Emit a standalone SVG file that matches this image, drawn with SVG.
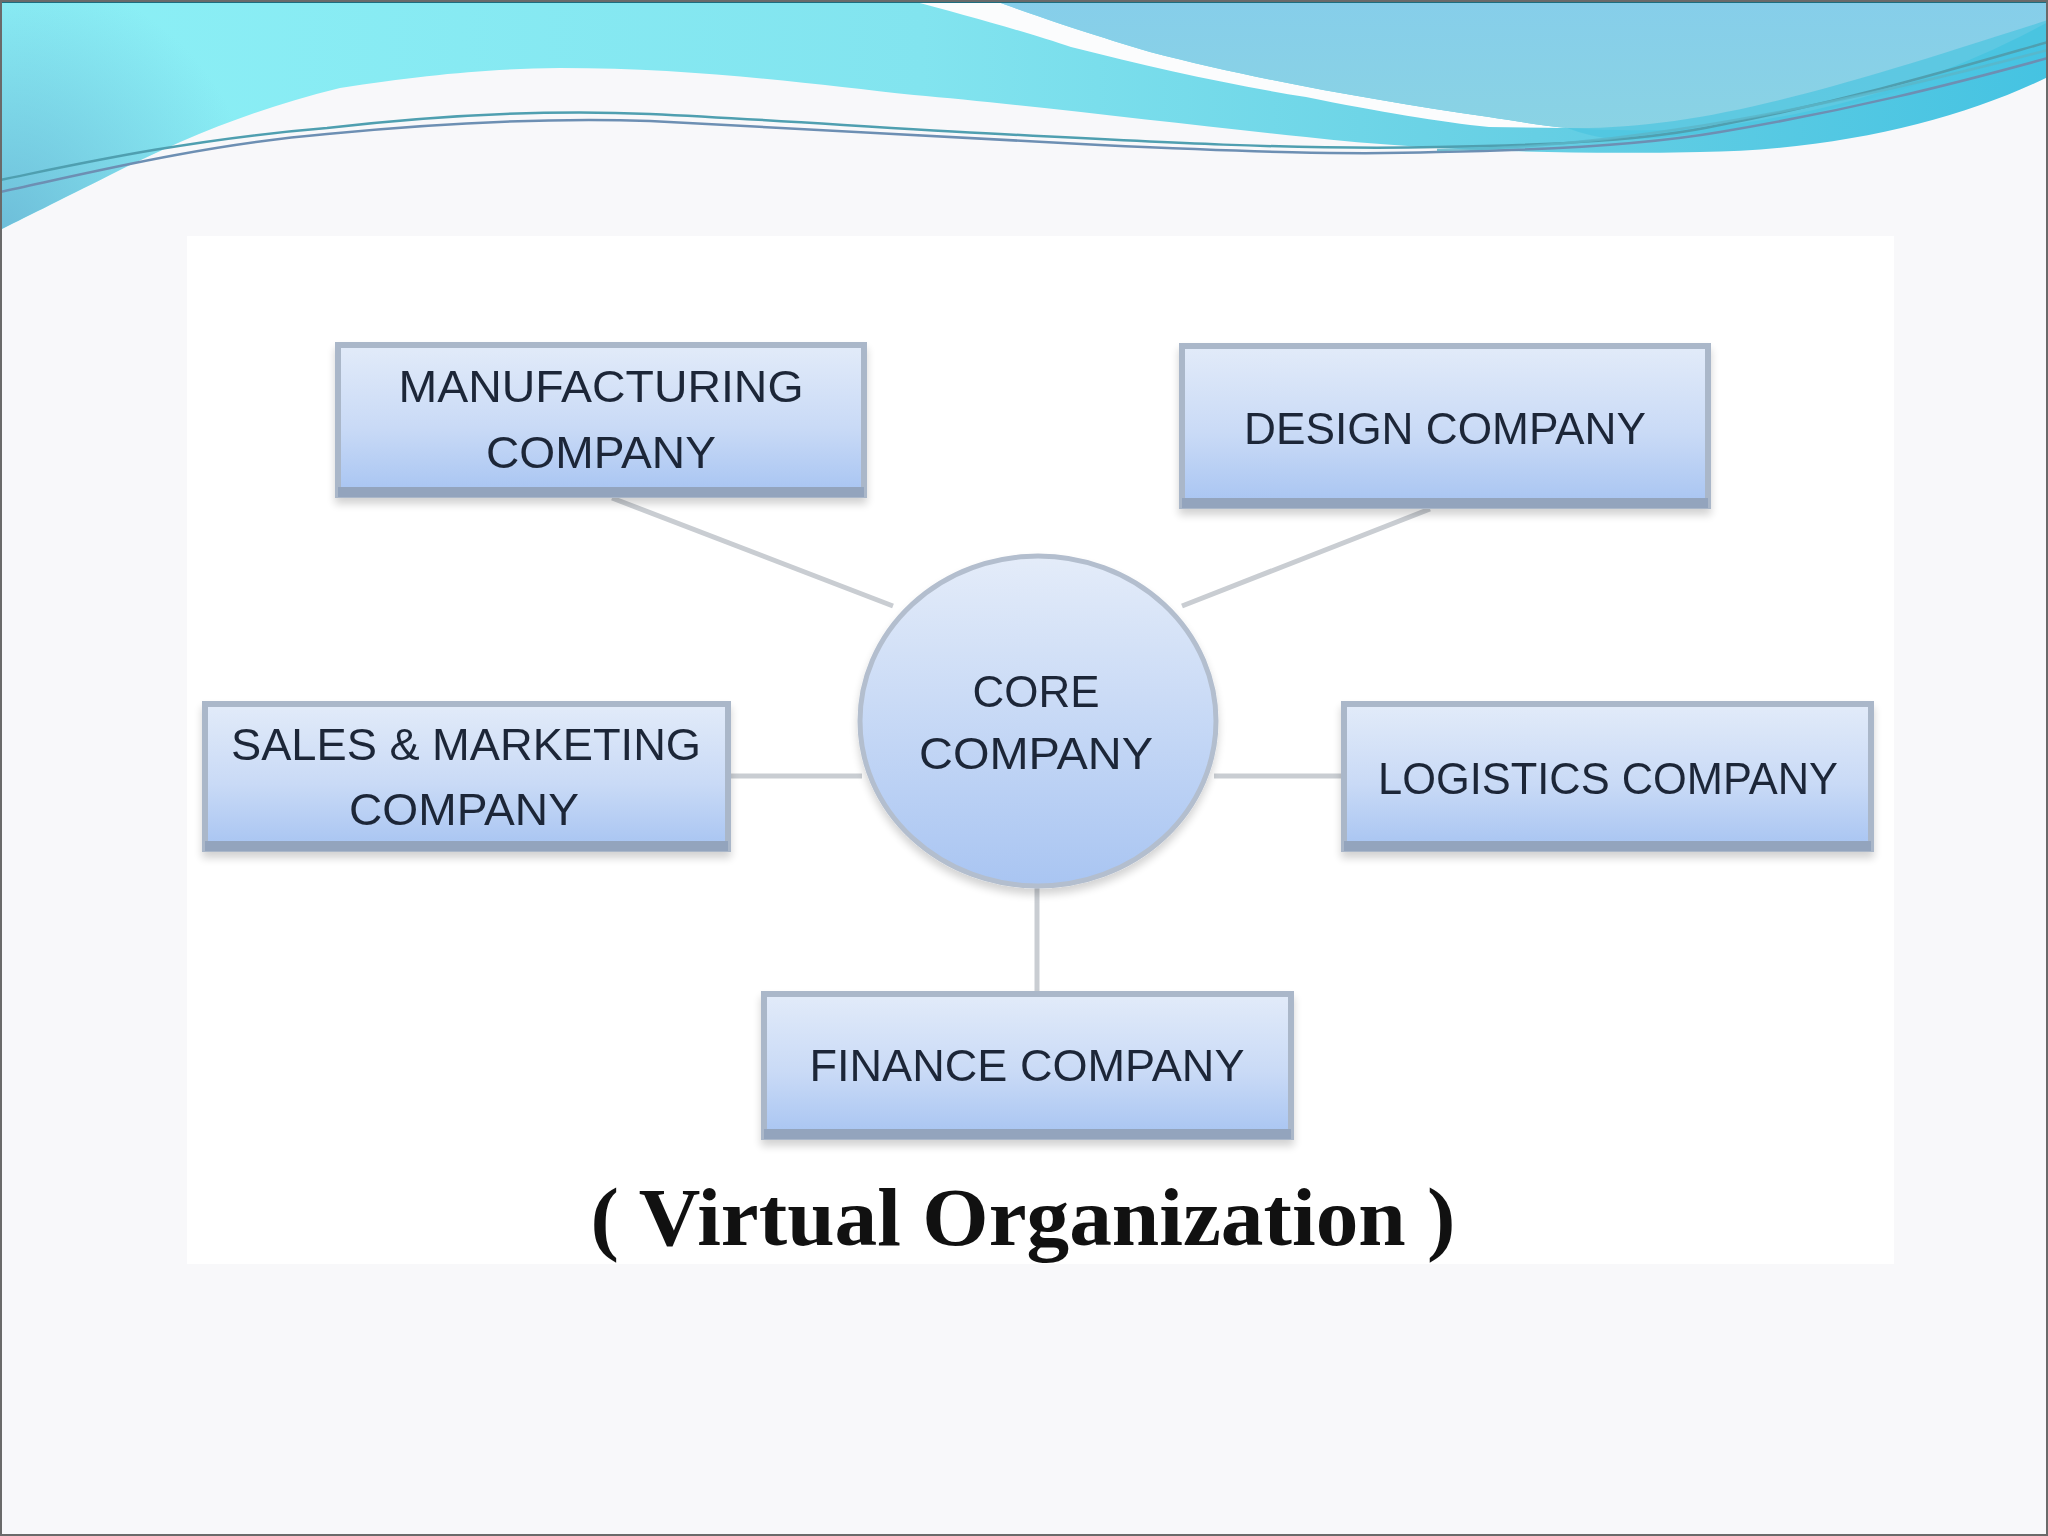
<svg xmlns="http://www.w3.org/2000/svg" width="2048" height="1536" viewBox="0 0 2048 1536">
<defs>
<linearGradient id="boxg" x1="0" y1="0" x2="0" y2="1">
<stop offset="0" stop-color="#e2ebf9"/>
<stop offset="0.55" stop-color="#c9daf6"/>
<stop offset="1" stop-color="#a7c4f2"/>
</linearGradient>
<linearGradient id="circg" x1="0" y1="0" x2="0" y2="1">
<stop offset="0" stop-color="#e4ecf9"/>
<stop offset="1" stop-color="#a9c5f2"/>
</linearGradient>
<linearGradient id="waveA" x1="0" y1="0" x2="1" y2="0">
<stop offset="0" stop-color="#8cf0f6"/>
<stop offset="0.45" stop-color="#82e4ef"/>
<stop offset="0.75" stop-color="#66cfe4"/>
<stop offset="1" stop-color="#45c3e2"/>
</linearGradient>
<radialGradient id="waveL" cx="0" cy="230" r="260" gradientUnits="userSpaceOnUse">
<stop offset="0" stop-color="#6ab8d6" stop-opacity="0.9"/>
<stop offset="1" stop-color="#6ab8d6" stop-opacity="0"/>
</radialGradient>
<linearGradient id="waveB" x1="0" y1="0" x2="0" y2="1">
<stop offset="0" stop-color="#86ceea"/>
<stop offset="1" stop-color="#8ad3e4"/>
</linearGradient>
<clipPath id="clipA">
<path d="M0,0 L2048,0 L2048,77 C1960,120 1840,150 1700,152 C1560,155 1420,150 1306,137 C1180,124 1020,104 914,95 C820,85 700,68 560,68 C480,69 420,76 340,88 C250,110 180,140 110,175 C60,200 20,220 0,230 Z"/>
</clipPath>
<filter id="sh" x="-10%" y="-10%" width="120%" height="130%">
<feGaussianBlur in="SourceAlpha" stdDeviation="4"/>
<feOffset dx="0" dy="6"/>
<feComponentTransfer><feFuncA type="linear" slope="0.18"/></feComponentTransfer>
<feMerge><feMergeNode/><feMergeNode in="SourceGraphic"/></feMerge>
</filter>
</defs>
<style>
.box{fill:url(#boxg);stroke:#aab7c9;stroke-width:6}
.strip{fill:#93a4bd}
.lbl{font-family:"Liberation Sans","DejaVu Sans",sans-serif;font-size:44px;fill:#1e2738;text-anchor:middle}
.conn{stroke:#c9cdd2;stroke-width:5;fill:none}
.wl{fill:none;stroke-width:2.5}
</style>
<rect x="0" y="0" width="2048" height="1536" fill="#f8f8fa"/>
<rect x="187" y="236" width="1707" height="1028" fill="#ffffff"/>
<g id="waves">
<path d="M0,0 L2048,0 L2048,77 C1960,120 1840,150 1700,152 C1560,155 1420,150 1306,137 C1180,124 1020,104 914,95 C820,85 700,68 560,68 C480,69 420,76 340,88 C250,110 180,140 110,175 C60,200 20,220 0,230 Z" fill="url(#waveA)"/>
<rect x="0" y="0" width="300" height="240" fill="url(#waveL)" clip-path="url(#clipA)"/>
<path d="M908,0 L993,0 C1030,14 1090,34 1150,52 C1250,78 1370,100 1489,117 C1515,121 1545,126 1567,128 L1489,127 C1440,122 1380,112 1306,97 C1230,85 1150,67 1071,47 C1030,33 965,15 908,0 Z" fill="#fbfcfd"/>
<path d="M993,0 L2048,0 L2048,22 C1960,70 1840,115 1700,128 C1650,132 1600,130 1567,128 C1545,126 1515,121 1489,117 C1370,100 1250,78 1150,52 C1090,34 1030,14 993,0 Z" fill="url(#waveB)"/>
<path d="M1567,128 C1700,130 1830,90 2048,20 L2048,40 C1900,95 1760,135 1620,140 C1600,138 1580,133 1567,128 Z" fill="#4cc4e0" opacity="0.7"/>
<path class="wl" stroke="#4f9fb0" d="M0,180 C60,168 180,140 327,128 C450,114 560,110 650,114 C780,120 880,128 1000,134 C1150,142 1300,150 1437,147 C1560,145 1650,140 1720,125 C1850,100 1950,70 2048,42"/>
<path class="wl" stroke="#6d8fb3" d="M0,192 C80,175 200,145 327,134 C450,122 560,118 650,121 C800,128 950,138 1100,145 C1250,152 1350,155 1437,152 C1560,150 1650,144 1720,132 C1850,110 1950,85 2048,58"/>
<path class="wl" stroke="#5bb5c8" d="M1437,150 C1600,148 1780,120 2048,50" opacity="0.8"/>
<rect x="0" y="0" width="2048" height="3" fill="#1d6e80"/>
</g>
<g id="connectors">
<line class="conn" x1="612" y1="498" x2="893" y2="606"/>
<line class="conn" x1="1430" y1="509" x2="1182" y2="606"/>
<line class="conn" x1="731" y1="776" x2="862" y2="776"/>
<line class="conn" x1="1214" y1="776" x2="1341" y2="776"/>
<line class="conn" x1="1037" y1="886" x2="1037" y2="991"/>
</g>
<g id="manufacturing" filter="url(#sh)">
<rect class="box" x="338" y="345" width="526" height="150"/>
<rect class="strip" x="338" y="487" width="526" height="10"/>
<text class="lbl" x="601" y="402" textLength="405" lengthAdjust="spacingAndGlyphs">MANUFACTURING</text>
<text class="lbl" x="601" y="468" textLength="230" lengthAdjust="spacingAndGlyphs">COMPANY</text>
</g>
<g id="design" filter="url(#sh)">
<rect class="box" x="1182" y="346" width="526" height="160"/>
<rect class="strip" x="1182" y="498" width="526" height="10"/>
<text class="lbl" x="1445" y="444" textLength="402" lengthAdjust="spacingAndGlyphs">DESIGN COMPANY</text>
</g>
<g id="sales" filter="url(#sh)">
<rect class="box" x="205" y="704" width="523" height="145"/>
<rect class="strip" x="205" y="841" width="523" height="10"/>
<text class="lbl" x="466" y="760" textLength="470" lengthAdjust="spacingAndGlyphs">SALES &amp; MARKETING</text>
<text class="lbl" x="464" y="825" textLength="230" lengthAdjust="spacingAndGlyphs">COMPANY</text>
</g>
<g id="logistics" filter="url(#sh)">
<rect class="box" x="1344" y="704" width="527" height="145"/>
<rect class="strip" x="1344" y="841" width="527" height="10"/>
<text class="lbl" x="1608" y="794" textLength="460" lengthAdjust="spacingAndGlyphs">LOGISTICS COMPANY</text>
</g>
<g id="finance" filter="url(#sh)">
<rect class="box" x="764" y="994" width="527" height="143"/>
<rect class="strip" x="764" y="1129" width="527" height="10"/>
<text class="lbl" x="1027" y="1081" textLength="435" lengthAdjust="spacingAndGlyphs">FINANCE COMPANY</text>
</g>
<g id="core" filter="url(#sh)">
<ellipse cx="1038" cy="721" rx="178" ry="165" fill="url(#circg)" stroke="#b3bece" stroke-width="5"/>
<text class="lbl" x="1036" y="707" textLength="127" lengthAdjust="spacingAndGlyphs">CORE</text>
<text class="lbl" x="1036" y="769" textLength="234" lengthAdjust="spacingAndGlyphs">COMPANY</text>
</g>
<g id="caption">
<text x="1023" y="1245" font-family="'Liberation Serif','DejaVu Serif',serif" font-weight="bold" font-size="82" fill="#111" text-anchor="middle" textLength="865" lengthAdjust="spacingAndGlyphs">( Virtual Organization )</text>
</g>
<rect x="1" y="1" width="2046" height="1534" fill="none" stroke="#6a6a6a" stroke-width="2"/>
</svg>
